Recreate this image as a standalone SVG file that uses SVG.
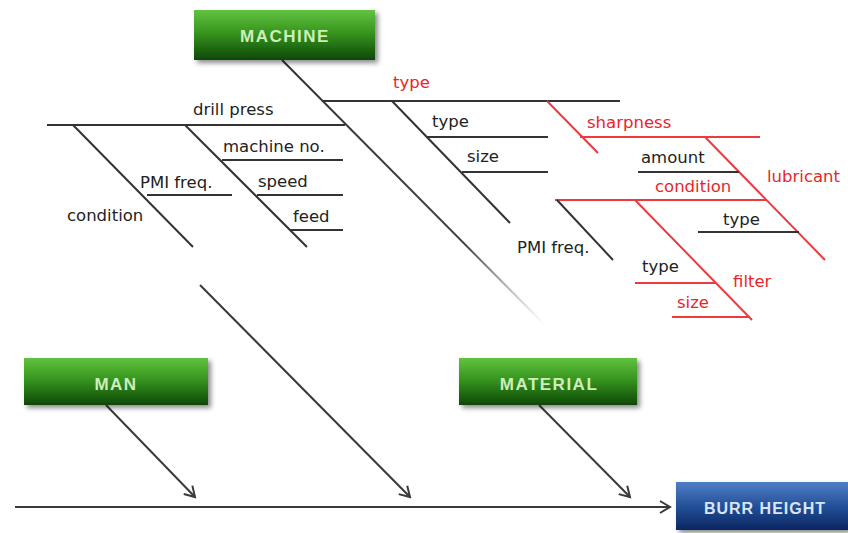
<svg xmlns="http://www.w3.org/2000/svg" width="848" height="533" viewBox="0 0 848 533">
<defs>
<style>
.lbl{font-family:"DejaVu Sans","Liberation Sans",sans-serif;font-size:16.5px;fill:#222}
.red{fill:#e8262a}
.ln{stroke:#333;stroke-width:2;fill:none}
.rl{stroke:#ee3a3e;stroke-width:2;fill:none}
.box{filter:url(#sh)}
.bt{font-family:"Liberation Sans",Arial,sans-serif;font-weight:bold;font-size:17px;fill:#cdeebb;text-anchor:middle;letter-spacing:1.5px}
.bb{font-family:"Liberation Sans",Arial,sans-serif;font-weight:bold;font-size:16px;fill:#d8e6f6;text-anchor:middle;letter-spacing:1px}
.con{stroke:#3a3a3a;stroke-width:2;fill:none;marker-end:url(#ah)}
</style>
<linearGradient id="gg" x1="0" y1="0" x2="0" y2="1">
<stop offset="0" stop-color="#62c240"/>
<stop offset="0.45" stop-color="#37961f"/>
<stop offset="1" stop-color="#0e4706"/>
</linearGradient>
<linearGradient id="bg" x1="0" y1="0" x2="0" y2="1">
<stop offset="0" stop-color="#4f7fc6"/>
<stop offset="0.5" stop-color="#24509a"/>
<stop offset="1" stop-color="#0a2660"/>
</linearGradient>
<linearGradient id="fade1" gradientUnits="userSpaceOnUse" x1="282" y1="60" x2="545" y2="325">
<stop offset="0" stop-color="#333" stop-opacity="1"/>
<stop offset="0.7" stop-color="#444" stop-opacity="1"/>
<stop offset="1" stop-color="#888" stop-opacity="0"/>
</linearGradient>
<linearGradient id="fade2" gradientUnits="userSpaceOnUse" x1="200" y1="285" x2="410" y2="497">
<stop offset="0" stop-color="#888" stop-opacity="0"/>
<stop offset="0.35" stop-color="#444" stop-opacity="1"/>
<stop offset="1" stop-color="#333" stop-opacity="1"/>
</linearGradient>
<filter id="sh" x="-10%" y="-20%" width="125%" height="150%">
<feDropShadow dx="3" dy="3" stdDeviation="2.5" flood-color="#000" flood-opacity="0.45"/>
</filter>
<marker id="ah" markerUnits="userSpaceOnUse" markerWidth="16" markerHeight="16" refX="12" refY="7" orient="auto" viewBox="0 0 16 14">
<path d="M2,1 L12,7 L2,13" stroke="#3a3a3a" stroke-width="2" fill="none"/>
</marker>
</defs>
<rect width="848" height="533" fill="#fff"/>

<g id="connectors">
<line class="con" x1="15" y1="507" x2="670" y2="507"/>
<line class="con" x1="106" y1="405" x2="195" y2="497"/>
<line class="con" x1="200" y1="285" x2="410" y2="497" stroke="url(#fade2)"/>
<line class="con" x1="539" y1="405" x2="630" y2="497"/>
<line x1="282" y1="60" x2="545" y2="325" stroke="url(#fade1)" stroke-width="2"/>
</g>

<g id="machine-branches">
<g id="drill-press">
<line class="ln" x1="47" y1="125" x2="345" y2="125"/>
<text class="lbl" x="193" y="115">drill press</text>
<line class="ln" x1="73" y1="125" x2="193" y2="247"/>
<text class="lbl" x="67" y="221">condition</text>
<line class="ln" x1="147" y1="195" x2="232" y2="195"/>
<text class="lbl" x="140" y="188">PMI freq.</text>
<line class="ln" x1="185" y1="125" x2="307" y2="247"/>
<line class="ln" x1="222" y1="160" x2="343" y2="160"/>
<text class="lbl" x="223" y="152">machine no.</text>
<line class="ln" x1="257" y1="195" x2="343" y2="195"/>
<text class="lbl" x="258" y="187">speed</text>
<line class="ln" x1="290" y1="230" x2="343" y2="230"/>
<text class="lbl" x="293" y="222">feed</text>
</g>
<g id="tool">
<line class="ln" x1="322" y1="101" x2="620" y2="101"/>
<text class="lbl red" x="393" y="88">type</text>
<line class="ln" x1="392" y1="101" x2="510" y2="223"/>
<line class="ln" x1="427" y1="137" x2="548" y2="137"/>
<text class="lbl" x="432" y="127">type</text>
<line class="ln" x1="462" y1="172" x2="548" y2="172"/>
<text class="lbl" x="467" y="162">size</text>
<line class="rl" x1="547" y1="101" x2="598" y2="153"/>
<line class="rl" x1="580" y1="137" x2="760" y2="137"/>
<text class="lbl red" x="587" y="128">sharpness</text>
</g>
<g id="lubricant">
<line class="rl" x1="705" y1="137" x2="825" y2="260"/>
<text class="lbl red" x="767" y="182">lubricant</text>
<line class="ln" x1="638" y1="172" x2="739" y2="172"/>
<text class="lbl" x="641" y="163">amount</text>
<line class="rl" x1="555" y1="200" x2="767" y2="200"/>
<text class="lbl red" x="655" y="192">condition</text>
<line class="ln" x1="698" y1="232" x2="799" y2="232"/>
<text class="lbl" x="723" y="225">type</text>
<line class="ln" x1="557" y1="200" x2="613" y2="260"/>
<text class="lbl" x="517" y="253">PMI freq.</text>
<line class="rl" x1="635" y1="200" x2="752" y2="320"/>
<text class="lbl red" x="733" y="287">filter</text>
<line class="rl" x1="635" y1="283" x2="716" y2="283"/>
<text class="lbl" x="642" y="272">type</text>
<line class="rl" x1="672" y1="317" x2="750" y2="317"/>
<text class="lbl red" x="677" y="308">size</text>
</g>
</g>

<g id="machine">
<rect class="box" x="194" y="10" width="181" height="50" fill="url(#gg)"/>
<text class="bt" x="285" y="42">MACHINE</text>
</g>
<g id="man">
<rect class="box" x="24" y="358" width="184" height="47" fill="url(#gg)"/>
<text class="bt" x="116" y="390">MAN</text>
</g>
<g id="material">
<rect class="box" x="459" y="358" width="178" height="47" fill="url(#gg)"/>
<text class="bt" x="549" y="390">MATERIAL</text>
</g>
<g id="burr-height">
<rect class="box" x="676" y="482" width="172" height="48" fill="url(#bg)"/>
<text class="bb" x="765" y="514">BURR HEIGHT</text>
</g>
</svg>
